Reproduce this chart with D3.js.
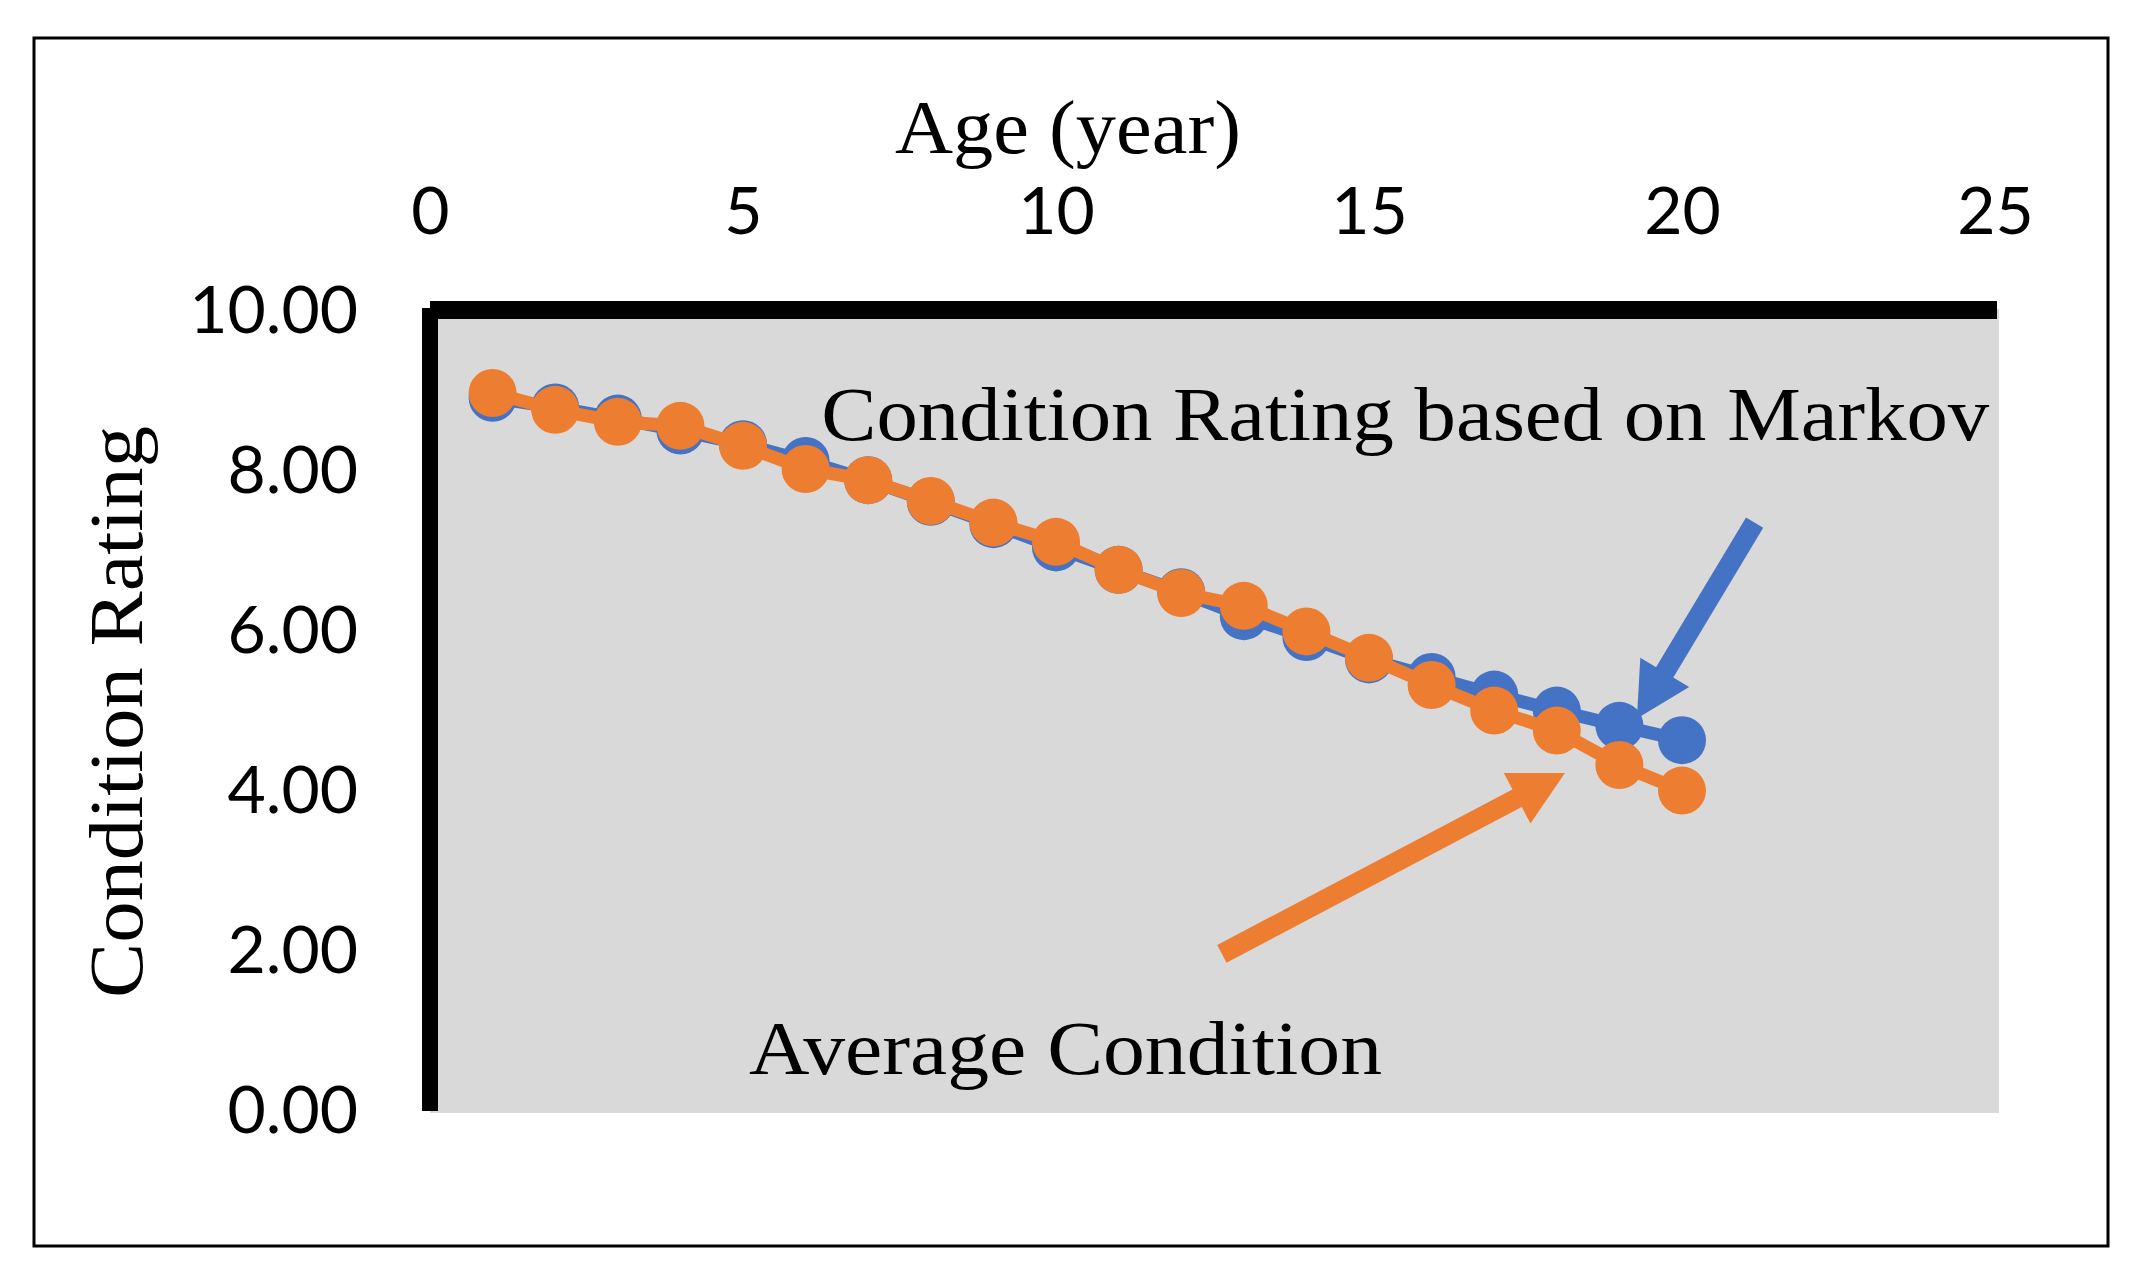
<!DOCTYPE html>
<html>
<head>
<meta charset="utf-8">
<script src="https://cdn.jsdelivr.net/npm/d3@7"></script>
<style>
  body { margin: 0; background: #fff; }
  svg { display: block; }
</style>
</head>
<body>
<div id="chart"></div>
<script>
// age in years
var ages = [1, 2, 3, 4, 5, 6, 7, 8, 9, 10, 11, 12, 13, 14, 15, 16, 17, 18, 19, 20]
// condition rating based on Markov (blue)
var markov = [8.89, 8.77, 8.63, 8.48, 8.31, 8.10, 7.86, 7.59, 7.31, 7.02, 6.74, 6.46, 6.16, 5.90, 5.62, 5.40, 5.18, 4.98, 4.79, 4.61]
// average condition (orange)
var average = [8.95, 8.74, 8.59, 8.54, 8.29, 8.00, 7.86, 7.60, 7.33, 7.09, 6.74, 6.45, 6.29, 5.97, 5.64, 5.30, 4.98, 4.73, 4.30, 3.98]
var x_ticks = [0, 5, 10, 15, 20, 25]
var y_ticks = [0, 2, 4, 6, 8, 10]

var W = 2143, H = 1279
var blue = "#4472C4", orange = "#ED7D31"
var serif = "'Liberation Serif', 'DejaVu Serif', serif"
var sans = "Lato, 'Open Sans', sans-serif"

var svg = d3.select("#chart").append("svg")
    .attr("width", W)
    .attr("height", H)

// outer frame
svg.append("rect")
    .attr("x", 34).attr("y", 38)
    .attr("width", 2074).attr("height", 1208)
    .attr("fill", "white")
    .attr("stroke", "black")
    .attr("stroke-width", 3)

var x = d3.scaleLinear().domain([0, 25]).range([430, 1995])
var y = d3.scaleLinear().domain([0, 10]).range([1109, 309])

// plot area
svg.append("rect")
    .attr("x", x(0))
    .attr("y", y(10))
    .attr("width", x(25) - x(0) + 4)
    .attr("height", y(0) - y(10) + 4)
    .attr("fill", "#D9D9D9")

// axes
var x_axis = svg.append("g")
    .attr("transform", "translate(0," + y(10) + ")")
    .call(d3.axisTop(x).tickValues(x_ticks).tickSize(0).tickPadding(75).tickFormat(d3.format("d")))
var y_axis = svg.append("g")
    .attr("transform", "translate(" + x(0) + ",0)")
    .call(d3.axisLeft(y).tickValues(y_ticks).tickSize(0).tickPadding(72).tickFormat(d3.format(".2f")))
svg.selectAll(".domain").remove()
svg.selectAll(".tick text")
    .attr("font-family", sans)
    .attr("font-size", 66)
    .attr("fill", "black")
y_axis.selectAll(".tick text").attr("dy", "0.36em")

// thick axis lines
svg.append("line")
    .attr("x1", x(0)).attr("x2", x(25) + 2)
    .attr("y1", y(10) + 1).attr("y2", y(10) + 1)
    .attr("stroke", "black").attr("stroke-width", 18)
svg.append("line")
    .attr("x1", x(0)).attr("x2", x(0))
    .attr("y1", y(10) - 1).attr("y2", y(0) + 2)
    .attr("stroke", "black").attr("stroke-width", 16)

// titles
svg.append("text")
    .text("Age (year)")
    .attr("x", 1068).attr("y", 153)
    .attr("text-anchor", "middle")
    .attr("font-family", serif)
    .attr("font-size", 76)
    .attr("textLength", 346)
    .attr("lengthAdjust", "spacingAndGlyphs")
svg.append("text")
    .text("Condition Rating")
    .attr("transform", "translate(142,712) rotate(-90)")
    .attr("text-anchor", "middle")
    .attr("font-family", serif)
    .attr("font-size", 76)
    .attr("textLength", 572)
    .attr("lengthAdjust", "spacingAndGlyphs")

// series
function draw_series(values, color){
    var pts = ages.map(function(a, i){ return [a, values[i]] })
    var g = svg.append("g")
    g.append("path")
        .datum(pts)
        .attr("fill", "none")
        .attr("stroke", color)
        .attr("stroke-width", 13)
        .attr("stroke-linejoin", "round")
        .attr("d", d3.line().x(function(d){ return x(d[0]) }).y(function(d){ return y(d[1]) }))
    g.selectAll("circle")
        .data(pts).enter()
        .append("circle")
        .attr("cx", function(d){ return x(d[0]) })
        .attr("cy", function(d){ return y(d[1]) })
        .attr("r", 24)
        .attr("fill", color)
}
draw_series(markov, blue)
draw_series(average, orange)

// annotation arrows (in data units)
function draw_arrow(x1, y1, x2, y2, color){
    var sx = x(x1), sy = y(y1), tx = x(x2), ty = y(y2)
    var dx = tx - sx, dy = ty - sy
    var len = Math.sqrt(dx*dx + dy*dy)
    var ux = dx/len, uy = dy/len
    var head_len = 54, head_w = 57
    var bx = tx - ux*head_len, by = ty - uy*head_len
    svg.append("line")
        .attr("x1", sx).attr("y1", sy)
        .attr("x2", bx + ux*2).attr("y2", by + uy*2)
        .attr("stroke", color)
        .attr("stroke-width", 20)
    svg.append("polygon")
        .attr("points", [
            [tx, ty],
            [bx - uy*head_w/2, by + ux*head_w/2],
            [bx + uy*head_w/2, by - ux*head_w/2]
        ].map(function(p){ return p.join(",") }).join(" "))
        .attr("fill", color)
}
draw_arrow(21.16, 7.33, 19.28, 4.88, blue)
draw_arrow(12.65, 1.94, 18.13, 4.20, orange)

// labels
svg.append("text")
    .text("Condition Rating based on Markov")
    .attr("x", x(6.25)).attr("y", 440)
    .attr("font-family", serif)
    .attr("font-size", 76)
    .attr("textLength", 1168)
    .attr("lengthAdjust", "spacingAndGlyphs")
svg.append("text")
    .text("Average Condition")
    .attr("x", 749).attr("y", 1074)
    .attr("font-family", serif)
    .attr("font-size", 76)
    .attr("textLength", 633)
    .attr("lengthAdjust", "spacingAndGlyphs")
</script>
</body>
</html>
